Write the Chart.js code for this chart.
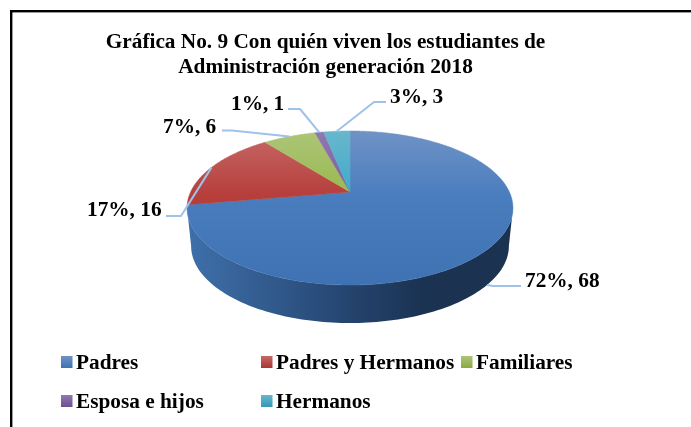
<!DOCTYPE html>
<html lang="es">
<head>
<meta charset="utf-8">
<title>Gráfica No. 9</title>
<script src="https://cdn.jsdelivr.net/npm/chart.js@4/dist/chart.umd.min.js"></script>
<style>
html,body{margin:0;padding:0;background:#fff;overflow:hidden}
canvas{display:block}
</style>
</head>
<body>
<canvas id="c" width="691" height="427"></canvas>
<script>
// ---- data ----
const categories = ['Padres', 'Padres y Hermanos', 'Familiares', 'Esposa e hijos', 'Hermanos'];
const values = [68, 16, 6, 1, 3];
const percentLabels = ['72%', '17%', '7%', '1%', '3%'];
const titleLines = ['Gráfica No. 9 Con quién viven los estudiantes de', 'Administración generación 2018'];

// ---- styles ----
const baseColors = ['#4a7ebb', '#be4b48', '#98b954', '#7d60a0', '#46aac5'];
const topColors = ['#6f93c6', '#c66967', '#adc578', '#9079b0', '#68b7cd'];
const midColors = ['#4a7dbd', '#b63e3b', '#98b84e', '#7c5aa0', '#3ea9c9'];
const lowColors = ['#3f72b2', '#a93532', '#8aa844', '#6d4f90', '#3598b5'];
const leaderColor = '#9fc2ea';
const textFont = 'bold 21.3px "Liberation Serif"';

// ---- projection of the pie disc (perspective view) ----
const CX = 350, R = 159.4, PA = 33.8, PB = 192, PC = -0.2078;
const DEPTH = 38, LOWER_SCALE = 0.975;
function proj(angle) {
  const u = Math.cos(angle), v = Math.sin(angle), d = 1 + PC * v;
  return { x: CX + R * u / d, y: (PA * v + PB) / d };
}
function lower(p) {
  return { x: CX + (p.x - CX) * LOWER_SCALE, y: p.y + DEPTH };
}
const FRONT_START = Math.acos(0.978), FRONT_END = Math.PI - FRONT_START; // visible wall

// ---- label layout: elbow and end of each leader, text anchor ----
const leaderLayout = [
  { useLower: true, elbow: [493, 286], end: [521, 286], text: [525, 287] },
  { elbow: [181, 216], end: [166, 216], text: [87, 216] },
  { elbow: [232, 130.5], end: [222, 130.5], text: [163, 133] },
  { elbow: [300, 109], end: [288, 109], text: [231, 110] },
  { elbow: [374, 102], end: [386, 102], text: [390, 103] }
];
const legendLayout = [
  { x: 61, y: 356 }, { x: 261, y: 356 }, { x: 461, y: 356 },
  { x: 61, y: 395 }, { x: 261, y: 395 }
];

const pie3d = {
  id: 'pie3d',
  beforeDraw(chart) {
    const ctx = chart.ctx;
    ctx.save();
    ctx.fillStyle = '#fff';
    ctx.fillRect(0, 0, chart.width, chart.height);
    ctx.fillStyle = '#000';
    ctx.fillRect(10, 10, chart.width - 10, 2.4);
    ctx.fillRect(10, 10, 2.4, chart.height - 10);
    ctx.restore();
  },
  beforeDatasetDraw() { return false; },
  afterDatasetsDraw(chart) {
    const ctx = chart.ctx;
    const arcs = chart.getDatasetMeta(0).data;
    ctx.save();

    // side wall
    arcs.forEach((arc) => {
      const a0 = Math.max(arc.startAngle, FRONT_START);
      const a1 = Math.min(arc.endAngle, FRONT_END);
      if (a1 <= a0) return;
      const g = ctx.createLinearGradient(187, 0, 513, 0);
      g.addColorStop(0, '#3f70aa');
      g.addColorStop(0.28, '#30588a');
      g.addColorStop(0.5, '#24446e');
      g.addColorStop(0.72, '#1b3352');
      g.addColorStop(1, '#1b3250');
      ctx.beginPath();
      const n = 120;
      for (let i = 0; i <= n; i++) {
        const p = proj(a0 + (a1 - a0) * i / n);
        i ? ctx.lineTo(p.x, p.y) : ctx.moveTo(p.x, p.y);
      }
      for (let i = n; i >= 0; i--) {
        const p = lower(proj(a0 + (a1 - a0) * i / n));
        ctx.lineTo(p.x, p.y);
      }
      ctx.closePath();
      ctx.fillStyle = g;
      ctx.fill();
    });

    // top face
    arcs.forEach((arc, idx) => {
      const g = ctx.createLinearGradient(0, 131, 0, 285);
      g.addColorStop(0, topColors[idx]);
      g.addColorStop(0.42, midColors[idx]);
      g.addColorStop(1, lowColors[idx]);
      ctx.beginPath();
      const c = { x: CX, y: PB };
      ctx.moveTo(c.x, c.y);
      const n = Math.max(8, Math.ceil((arc.endAngle - arc.startAngle) * 60));
      for (let i = 0; i <= n; i++) {
        const p = proj(arc.startAngle + (arc.endAngle - arc.startAngle) * i / n);
        ctx.lineTo(p.x, p.y);
      }
      ctx.closePath();
      ctx.fillStyle = g;
      ctx.fill();
      ctx.strokeStyle = g;
      ctx.lineWidth = 0.5;
      ctx.stroke();
    });

    // leader lines
    ctx.strokeStyle = leaderColor;
    ctx.lineWidth = 2;
    ctx.lineJoin = 'round';
    arcs.forEach((arc, idx) => {
      const l = leaderLayout[idx];
      let p = proj((arc.startAngle + arc.endAngle) / 2);
      if (l.useLower) p = lower(p);
      ctx.beginPath();
      ctx.moveTo(p.x, p.y);
      ctx.lineTo(l.elbow[0], l.elbow[1]);
      ctx.lineTo(l.end[0], l.end[1]);
      ctx.stroke();
    });

    // data labels
    ctx.fillStyle = '#000';
    ctx.font = textFont;
    ctx.textAlign = 'left';
    ctx.textBaseline = 'alphabetic';
    values.forEach((v, idx) => {
      const l = leaderLayout[idx];
      ctx.fillText(percentLabels[idx] + ', ' + v, l.text[0], l.text[1]);
    });

    // legend
    categories.forEach((name, idx) => {
      const l = legendLayout[idx];
      const g = ctx.createLinearGradient(0, l.y, 0, l.y + 12);
      g.addColorStop(0, topColors[idx]);
      g.addColorStop(1, lowColors[idx]);
      ctx.fillStyle = g;
      ctx.fillRect(l.x, l.y, 11.5, 12);
      ctx.fillStyle = '#000';
      ctx.fillText(name, l.x + 15, l.y + 12.5);
    });
    ctx.restore();
  }
};

new Chart(document.getElementById('c'), {
  type: 'pie',
  data: {
    labels: categories,
    datasets: [{ data: values, backgroundColor: baseColors, borderWidth: 0 }]
  },
  plugins: [pie3d],
  options: {
    responsive: false,
    animation: false,
    layout: { padding: { right: 40 } },
    plugins: {
      legend: { display: false },
      tooltip: { enabled: false },
      title: {
        display: true,
        text: titleLines,
        color: '#000',
        fullSize: false,
        align: 'center',
        font: { family: '"Liberation Serif"', size: 21.3, weight: 'bold', lineHeight: 1.174 },
        padding: { top: 30, bottom: 10 }
      }
    }
  }
});
</script>
</body>
</html>
